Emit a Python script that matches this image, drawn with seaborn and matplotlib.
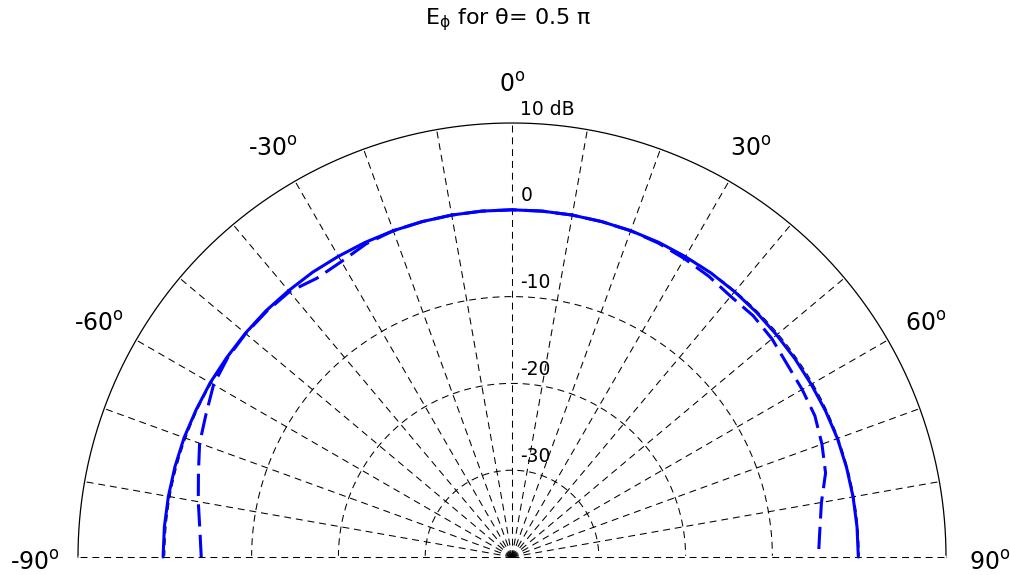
import numpy as np
import pandas as pd
import matplotlib
matplotlib.use("Agg")
import matplotlib.pyplot as plt
import seaborn as sns

# pattern samples, every 5 degrees from -90 to 90
angles_deg = [-90, -85, -80, -75, -70, -65, -60, -55, -50, -45, -40, -35, -30,
              -25, -20, -15, -10, -5, 0, 5, 10, 15, 20, 25, 30, 35, 40, 45, 50,
              55, 60, 65, 70, 75, 80, 85, 90]
solid_db = [0.2, 0.2, 0.2, 0.2, 0.2, 0.15, 0.15, 0.1, 0.1, 0.1, 0.05, 0.05, 0.0,
            0.0, 0.0, 0.0, 0.0, 0.0, 0.0, 0.0, 0.0, 0.0, 0.0, 0.0, -0.05, -0.05,
            -0.1, -0.15, -0.2, -0.2, -0.2, -0.15, -0.1, -0.1, -0.1, -0.1, -0.1]
dashed_db = [-4.2, -3.9, -3.3, -2.6, -1.7, -1.1, -0.3, 0.0, 0.05, 0.0, -0.1, -0.8, -0.7,
             -0.2, 0.0, 0.0, 0.0, 0.0, 0.0, 0.0, 0.0, 0.0, 0.0, -0.1, -0.3, -0.5,
             -0.8, -0.7, -0.9, -1.3, -1.4, -1.5, -2.0, -2.6, -3.8, -4.4, -4.7]

ring_levels = [-30, -20, -10, 0]
ring_labels = ["-30", "-20", "-10", "0"]
outer_level = 10
outer_label = "10 dB"
db_min = -40
spoke_deg = list(range(-90, 91, 10))
angle_label_deg = [-90, -60, -30, 0, 30, 60, 90]

sns.set_style("white")
plt.rcParams["font.family"] = ["DejaVu Sans"]
plt.rcParams["text.color"] = "black"
plt.rcParams["mathtext.default"] = "regular"
plt.rcParams["lines.scale_dashes"] = False

W, H = 1010, 575
fig = plt.figure(figsize=(W / 100, H / 100), dpi=100)
# half disc: centre at (512, 557) px, radius 434 px; the polar box is square
side = 868
cy = 340
ax = fig.add_axes([78 / W, (H - cy - side / 2) / H, side / W, side / H], projection="polar")
ax.set_theta_zero_location("N")
ax.set_theta_direction(-1)
ax.set_thetamin(-90)
ax.set_thetamax(90)
ax.set_rlim(db_min, outer_level)
ax.set_autoscale_on(False)

df = pd.DataFrame({"theta": np.deg2rad(angles_deg), "solid": solid_db, "dashed": dashed_db})
sns.lineplot(data=df, x="theta", y="solid", ax=ax, color="blue", lw=2.2, zorder=3,
             clip_on=False, errorbar=None)
sns.lineplot(data=df, x="theta", y="dashed", ax=ax, color="blue", lw=2.2,
             linestyle=(0, (16, 6)), zorder=3, clip_on=False, errorbar=None)
ax.set_xlabel("")
ax.set_ylabel("")

# MATLAB-style grid: dashed rings and spokes, solid outer ring
grid_dash = (0, (5, 3.5))
arc = np.linspace(-np.pi / 2, np.pi / 2, 721)
for lev in ring_levels:
    ax.plot(arc, np.full_like(arc, lev), color="black", lw=0.75, ls=grid_dash, zorder=2)
ax.plot(arc, np.full_like(arc, outer_level), color="black", lw=0.9, zorder=2, clip_on=False)

# blank the straight base edge, then draw the two horizontal spokes dashed on top
for a in (-90, 90):
    t = np.deg2rad(a)
    ax.plot([t, t], [db_min, outer_level], color="white", lw=2.5, zorder=2.6,
            clip_on=False, solid_capstyle="butt")
for a in spoke_deg:
    t = np.deg2rad(a)
    ax.plot([t, t], [db_min, outer_level], color="black", lw=0.75, ls=grid_dash,
            zorder=2.7, clip_on=False)

for lev, lab in zip(ring_levels + [outer_level], ring_labels + [outer_label]):
    ax.annotate(lab, xy=(0, lev), xytext=(6, 10), textcoords="offset points",
                ha="left", va="center", fontsize=13.5, annotation_clip=False)

for a in angle_label_deg:
    ax.annotate(f"{a}$^o$", xy=(np.deg2rad(a), outer_level + 5), xytext=(0, -4),
                textcoords="offset points", ha="center", va="center",
                fontsize=17, annotation_clip=False)

fig.text(508 / W, 1 - 20 / H, r"E$_\phi$ for θ= 0.5 π", ha="center", va="center",
         fontsize=16)

ax.set_thetalim(-np.pi / 2, np.pi / 2)
ax.set_rlim(db_min, outer_level)
ax.grid(False)
ax.set_xticks([])
ax.set_yticks([])
for sp in ax.spines.values():
    sp.set_visible(False)

fig.savefig("out.png", dpi=100)
